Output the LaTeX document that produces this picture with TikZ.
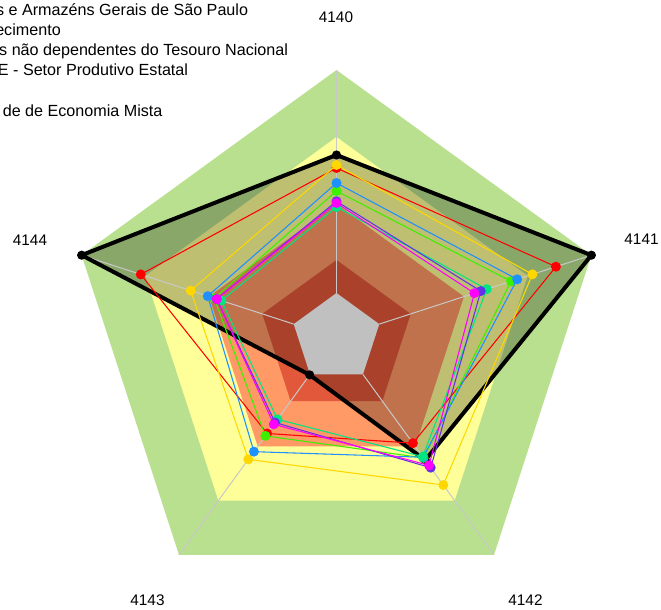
\documentclass[tikz,border=0pt]{standalone}
\usepackage{fontspec}
\setmainfont{Liberation Sans}
\definecolor{bandgreen}{RGB}{185,224,142}
\definecolor{bandyellow}{RGB}{255,255,153}
\definecolor{bandsalmon}{RGB}{255,153,102}
\definecolor{bandred}{RGB}{226,88,58}
\definecolor{bandgray}{RGB}{192,192,192}
\definecolor{spokegray}{RGB}{200,200,200}
\definecolor{sred}{RGB}{255,0,0}
\definecolor{sgold}{RGB}{255,215,0}
\definecolor{sblue}{RGB}{30,144,255}
\definecolor{sgreen}{RGB}{60,240,0}
\definecolor{smint}{RGB}{0,230,130}
\definecolor{spurple}{RGB}{100,50,230}
\definecolor{smagenta}{RGB}{255,0,255}
\newcommand\pentagon[2]{\fill[#1] (-90:#2) -- (-18:#2) -- (54:#2) -- (126:#2) -- (198:#2) -- cycle;}
\newcommand\drawseries[7]{%
  \coordinate (#1a) at (-90:#3);
  \coordinate (#1b) at (-18:#4);
  \coordinate (#1c) at (54:#5);
  \coordinate (#1d) at (126:#6);
  \coordinate (#1e) at (198:#7);
  \draw[#2,line width=0.8pt,line join=round] (#1a) -- (#1b) -- (#1c) -- (#1d) -- (#1e) -- cycle;
  \foreach \p in {a,b,c,d,e} \fill[#2] (#1\p) circle[radius=5];
}
\begin{document}
\begin{tikzpicture}[x=0.75pt,y=-0.75pt,font=\fontsize{11.5}{13}\selectfont,
  spoke/.style={draw=spokegray,line width=0.75pt},
  axislabel/.style={inner sep=0pt},
  legendtext/.style={anchor=base east,inner sep=0pt,font=\fontsize{12.1}{14}\selectfont}]
\useasboundingbox (0,0) rectangle (661,610);
\clip (0,0) rectangle (661,610);
\begin{scope}[shift={(336.5,338)}]
  % bands
  \pentagon{bandgreen}{268}
  \pentagon{bandyellow}{201}
  \pentagon{bandsalmon}{134}
  \pentagon{bandred}{78}
  % black series area
  \coordinate (ka) at (-90:183);
  \coordinate (kb) at (-18:268);
  \coordinate (kc) at (54:151);
  \coordinate (kd) at (126:45.6);
  \coordinate (ke) at (198:268);
  \fill[black,opacity=0.25] (ka) -- (kb) -- (kc) -- (kd) -- (ke) -- cycle;
  % centre
  \pentagon{bandgray}{45}
  % spokes
  \foreach \a [count=\i] in {-90,-18,54,126,198} {
    \coordinate (in\i) at (\a:45);
    \coordinate (out\i) at (\a:268);
    \draw[spoke] (in\i) -- (out\i);
  }
  % black series line
  \draw[black,line width=3pt,line join=round] (ka) -- (kb) -- (kc) -- (kd) -- (ke) -- cycle;
  \foreach \p in {a,b,c,d,e} \fill[black] (k\p) circle[radius=4.6];
  % coloured series
  \drawseries{r}{sred}{170}{230.7}{130}{118}{205.8}
  \drawseries{y}{sgold}{173}{206}{181.7}{150}{153.3}
  \drawseries{g}{sgreen}{147}{183.5}{148.2}{121}{128.6}
  \drawseries{b}{sblue}{155}{190}{147.4}{140.5}{135.4}
  \drawseries{m}{smint}{131}{158}{146.6}{100.5}{121}
  \drawseries{p}{spurple}{136.7}{151.7}{160.3}{104.5}{126}
  \drawseries{q}{smagenta}{135}{145}{157.4}{106.7}{126}
\end{scope}
% axis labels
\node[axislabel] (l4140) at (336,17) {4140};
\node[axislabel] (l4141) at (641.5,239.5) {4141};
\node[axislabel] (l4142) at (525.5,600) {4142};
\node[axislabel] (l4143) at (147.5,600) {4143};
\node[axislabel] (l4144) at (30,240) {4144};
% legend (cut off at the left edge, as in the reference)
\node[legendtext] (leg1) at (248.3,16) {s e Armazéns Gerais de São Paulo};
\node[legendtext] (leg2) at (61,36) {ecimento};
\node[legendtext] (leg3) at (288.3,56) {s não dependentes do Tesouro Nacional};
\node[legendtext] (leg4) at (188.3,76) {E - Setor Produtivo Estatal};
\node[legendtext] (leg6) at (162.7,117) {de de Economia Mista};
\end{tikzpicture}
\end{document}
